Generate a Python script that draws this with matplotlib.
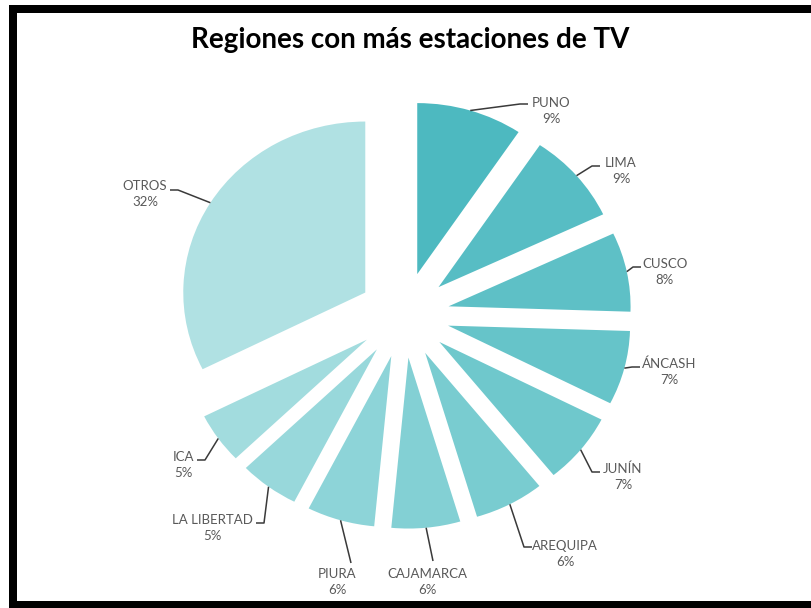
import numpy as np
import matplotlib
matplotlib.use('Agg')
import matplotlib.pyplot as plt
from matplotlib.patches import Rectangle

# datos (porcentaje de estaciones de TV por región)
regiones = ['PUNO', 'LIMA', 'CUSCO', 'ÁNCASH', 'JUNÍN', 'AREQUIPA',
            'CAJAMARCA', 'PIURA', 'LA LIBERTAD', 'ICA', 'OTROS']
porcentajes = [9.4, 8.6, 7.5, 7.0, 6.7, 6.2, 6.1, 6.0, 5.3, 4.8, 32.4]
colores = ['#4DB9C0', '#57BDC4', '#5EC0C6', '#66C4C9', '#6FC8CC', '#79CCD0',
           '#83D0D4', '#8DD4D8', '#98D8DB', '#A2DCDE', '#B0E1E3']

# posición de etiquetas (px, desde arriba-izq.): centro del texto, fin de la guía, lado
etq_txt = [(551, 111), (621, 171), (665, 272), (669, 372), (623, 477), (565, 554),
           (427, 582), (337, 582), (212, 528), (183, 465), (145, 194)]
etq_fin = [(528, 104), (600, 166), (641, 267), (640, 367), (600, 472), (532, 547),
           (433, 561), (351, 563), (256, 523), (197, 460), (170, 190)]
etq_lado = ['l', 'l', 'l', 'l', 'l', 'l', 'v', 'v', 'r', 'r', 'r']

W, H = 811, 608
CX, CY = 404, 315      # centro del pie en px
RX, RY = 182, 171      # px por unidad (imagen algo estirada)

fig = plt.figure(figsize=(W / 100, H / 100), dpi=100, facecolor='white')
ax = fig.add_axes([0, 0, 1, 1])
wedges, _ = ax.pie(porcentajes, colors=colores, startangle=90, counterclock=False,
                   explode=[0.25] * len(porcentajes), radius=1,
                   wedgeprops=dict(linewidth=0))
ax.set_aspect('auto')
ax.set_xlim(-CX / RX, (W - CX) / RX)
ax.set_ylim((CY - H) / RY, CY / RY)
ax.axis('off')

def px(x, y):
    return (x - CX) / RX, (CY - y) / RY

total = sum(porcentajes)
for w, reg, val, (tx, ty), (ex, ey), lado in zip(wedges, regiones, porcentajes,
                                                 etq_txt, etq_fin, etq_lado):
    th = np.radians((w.theta1 + w.theta2) / 2)
    sx = w.center[0] + w.r * np.cos(th)
    sy = w.center[1] + w.r * np.sin(th)
    if lado == 'l':
        kx, ky = ex - 8, ey
    elif lado == 'r':
        kx, ky = ex + 8, ey
    else:
        kx, ky = ex, ey
    k = px(kx, ky); e = px(ex, ey)
    ax.plot([sx, k[0], e[0]], [sy, k[1], e[1]], color='#3A3A3A', lw=1.1,
            solid_capstyle='butt')
    t = px(tx, ty)
    ax.text(t[0], t[1], f'{reg}\n{val / total * 100:.0f}%', ha='center', va='center',
            fontsize=9.5, family='Lato', color='#595959', linespacing=1.4)

fig.text(410 / W, 1 - 40 / H, 'Regiones con más estaciones de TV', ha='center',
         va='center', fontsize=20, fontweight='bold', family='Lato', color='black')

# marco negro
for x0, y0, w0, h0 in [(9, 5, 8, H - 5), (9, 5, W - 9, 8), (9, H - 7, W - 9, 7)]:
    fig.add_artist(Rectangle((x0 / W, 1 - (y0 + h0) / H), w0 / W, h0 / H,
                             transform=fig.transFigure, color='black', lw=0))

fig.savefig('out.png', dpi=100, facecolor='white')
